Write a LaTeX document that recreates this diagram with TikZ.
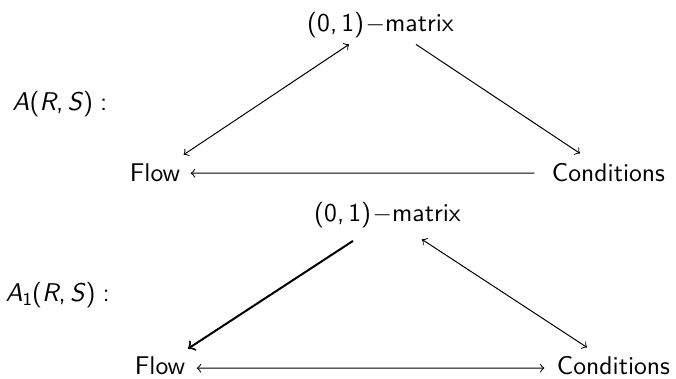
\documentclass[tikz,border=0pt]{standalone}
\usetikzlibrary{calc}
\begin{document}
\begin{tikzpicture}[x=0.4pt,y=-0.4pt,
  every node/.style={inner sep=0pt, font=\sffamily\fontsize{10.25}{12}\selectfont},
  lbl/.style={anchor=base},
  side/.style={anchor=base west},
  arr/.style={line width=0.4pt},
  bold/.style={line width=0.8pt}]
\useasboundingbox (0,0) rectangle (676,379);
% top diagram
\node[lbl] (m1) at (380.5,32) {(0,\,1)\kern0.6pt$-$\kern0pt matrix};
\node[lbl] (f1) at (155,182) {Flow};
\node[lbl] (c1) at (608.5,182) {Conditions};
\node[side] (l1) at (12,111) {\textit{A}(\textit{R},\,\textit{S})\;:};
\draw[arr,<->] ([shift={(3,-9)}]f1.north east) -- ([shift={(-31.5,5.5)}]m1.south);
\draw[arr,->] ([shift={(35.5,5.5)}]m1.south) -- ([shift={(-28.5,-10)}]c1.north);
\draw[arr,->] ([shift={(-17,0)}]c1.west) -- ([shift={(10,0)}]f1.east);
% bottom diagram
\node[lbl] (m2) at (387.5,222) {(0,\,1)\kern0.6pt$-$\kern0pt matrix};
\node[lbl] (f2) at (160,375) {Flow};
\node[lbl] (c2) at (613.5,375) {Conditions};
\node[side] (l2) at (5,302) {\textit{A}\raisebox{-0.35ex}{\fontsize{7.2}{8}\selectfont 1}(\textit{R},\,\textit{S})\;:};
\draw[bold,->] ([shift={(-34.5,12)}]m2.south) -- ([shift={(28,-8)}]f2.north);
\draw[arr,<->] ([shift={(34.5,10.5)}]m2.south) -- ([shift={(-26.5,-9)}]c2.north);
\draw[arr,<->] ([shift={(11,2)}]f2.east) -- ([shift={(-12,2)}]c2.west);
\end{tikzpicture}
\end{document}
